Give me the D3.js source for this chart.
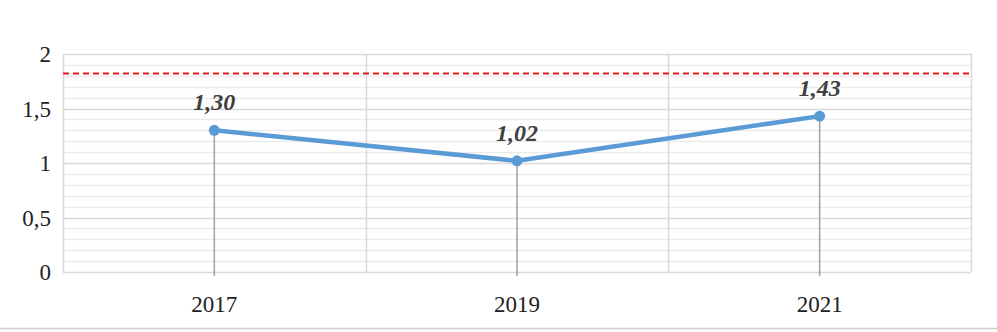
<!DOCTYPE html>
<html>
<head>
<meta charset="utf-8">
<script src="https://cdn.jsdelivr.net/npm/d3@7"></script>
<style>
  body { margin: 0; background: #fff; }
  svg { display: block; font-family: 'Liberation Serif', 'Times New Roman', serif; }
</style>
</head>
<body>
<svg id="chart"></svg>
<script>
// Data
var years = ['2017', '2019', '2021']
var values = [1.30, 1.02, 1.43]
var labels = ['1,30', '1,02', '1,43']
var yTicks = [0, 0.5, 1, 1.5, 2]
var yTickLabels = ['0', '0,5', '1', '1,5', '2']
var threshold = [1.82]

var conf = {
  width: 997,
  height: 332,
  left: 63,
  right: 971,
  top: 54,
  bottom: 272
}

var svg = d3.select('#chart')
  .attr('width', conf.width)
  .attr('height', conf.height)

var x = d3.scaleBand()
  .domain(years)
  .range([conf.left, conf.right])

var y = d3.scaleLinear()
  .domain([0, 2])
  .range([conf.bottom, conf.top])

// Minor gridlines
var minor = d3.range(0, 2.001, 0.1).filter(function (d) {
  return Math.abs(d * 2 - Math.round(d * 2)) > 0.01
})
svg.append('g')
  .selectAll('line')
  .data(minor)
  .enter()
  .append('line')
  .attr('x1', conf.left)
  .attr('x2', conf.right)
  .attr('y1', function (d) { return Math.round(y(d)) + 0.5 })
  .attr('y2', function (d) { return Math.round(y(d)) + 0.5 })
  .attr('stroke', '#ebebeb')
  .attr('stroke-width', 1.5)

// Major gridlines
svg.append('g')
  .selectAll('line')
  .data(yTicks)
  .enter()
  .append('line')
  .attr('x1', conf.left)
  .attr('x2', conf.right)
  .attr('y1', function (d) { return Math.round(y(d)) + 0.5 })
  .attr('y2', function (d) { return Math.round(y(d)) + 0.5 })
  .attr('stroke', '#d9d9d9')
  .attr('stroke-width', 1.5)

// Vertical gridlines (category boundaries)
var bounds = years.map(function (d) { return x(d) }).concat([conf.right])
svg.append('g')
  .selectAll('line')
  .data(bounds)
  .enter()
  .append('line')
  .attr('x1', function (d) { return Math.round(d) + 0.5 })
  .attr('x2', function (d) { return Math.round(d) + 0.5 })
  .attr('y1', conf.top)
  .attr('y2', conf.bottom)
  .attr('stroke', '#d9d9d9')
  .attr('stroke-width', 1.5)

// Y tick labels
svg.append('g')
  .selectAll('text')
  .data(yTicks)
  .enter()
  .append('text')
  .attr('x', 51)
  .attr('y', function (d) { return y(d) + 8 })
  .attr('text-anchor', 'end')
  .attr('font-size', 23)
  .attr('fill', '#222')
  .text(function (d, i) { return yTickLabels[i] })

// X tick labels
svg.append('g')
  .selectAll('text')
  .data(years)
  .enter()
  .append('text')
  .attr('x', function (d) { return x(d) + x.bandwidth() / 2 })
  .attr('y', 312)
  .attr('text-anchor', 'middle')
  .attr('font-size', 23)
  .attr('fill', '#222')
  .text(function (d) { return d })

// Threshold line
svg.append('g')
  .selectAll('line')
  .data(threshold)
  .enter()
  .append('line')
  .attr('x1', conf.left)
  .attr('x2', conf.right)
  .attr('y1', function (d) { return y(d) })
  .attr('y2', function (d) { return y(d) })
  .attr('stroke', '#e8161b')
  .attr('stroke-width', 2)
  .attr('stroke-dasharray', '6,4')

var points = years.map(function (d, i) {
  return { year: d, value: values[i], label: labels[i] }
})
var cx = function (d) { return x(d.year) + x.bandwidth() / 2 }

// Drop lines
svg.append('g')
  .selectAll('line')
  .data(points)
  .enter()
  .append('line')
  .attr('x1', cx)
  .attr('x2', cx)
  .attr('y1', function (d) { return y(d.value) })
  .attr('y2', conf.bottom + 4)
  .attr('stroke', '#a0a0a0')
  .attr('stroke-width', 1.5)

// Series line
var line = d3.line()
  .x(cx)
  .y(function (d) { return y(d.value) })

svg.append('path')
  .datum(points)
  .attr('d', line)
  .attr('fill', 'none')
  .attr('stroke', '#5b9bd5')
  .attr('stroke-width', 4.5)
  .attr('stroke-linejoin', 'round')

svg.append('g')
  .selectAll('circle')
  .data(points)
  .enter()
  .append('circle')
  .attr('cx', cx)
  .attr('cy', function (d) { return y(d.value) })
  .attr('r', 5.5)
  .attr('fill', '#5b9bd5')

// Value labels
svg.append('g')
  .selectAll('text')
  .data(points)
  .enter()
  .append('text')
  .attr('x', cx)
  .attr('y', function (d) { return y(d.value) - 20 })
  .attr('text-anchor', 'middle')
  .attr('font-size', 24)
  .attr('font-weight', 'bold')
  .attr('font-style', 'italic')
  .attr('fill', '#404040')
  .text(function (d) { return d.label })

// Bottom border
svg.append('line')
  .attr('x1', 0)
  .attr('x2', conf.width)
  .attr('y1', 328.5)
  .attr('y2', 328.5)
  .attr('stroke', '#d0d0d0')
  .attr('stroke-width', 1.5)
</script>
</body>
</html>
